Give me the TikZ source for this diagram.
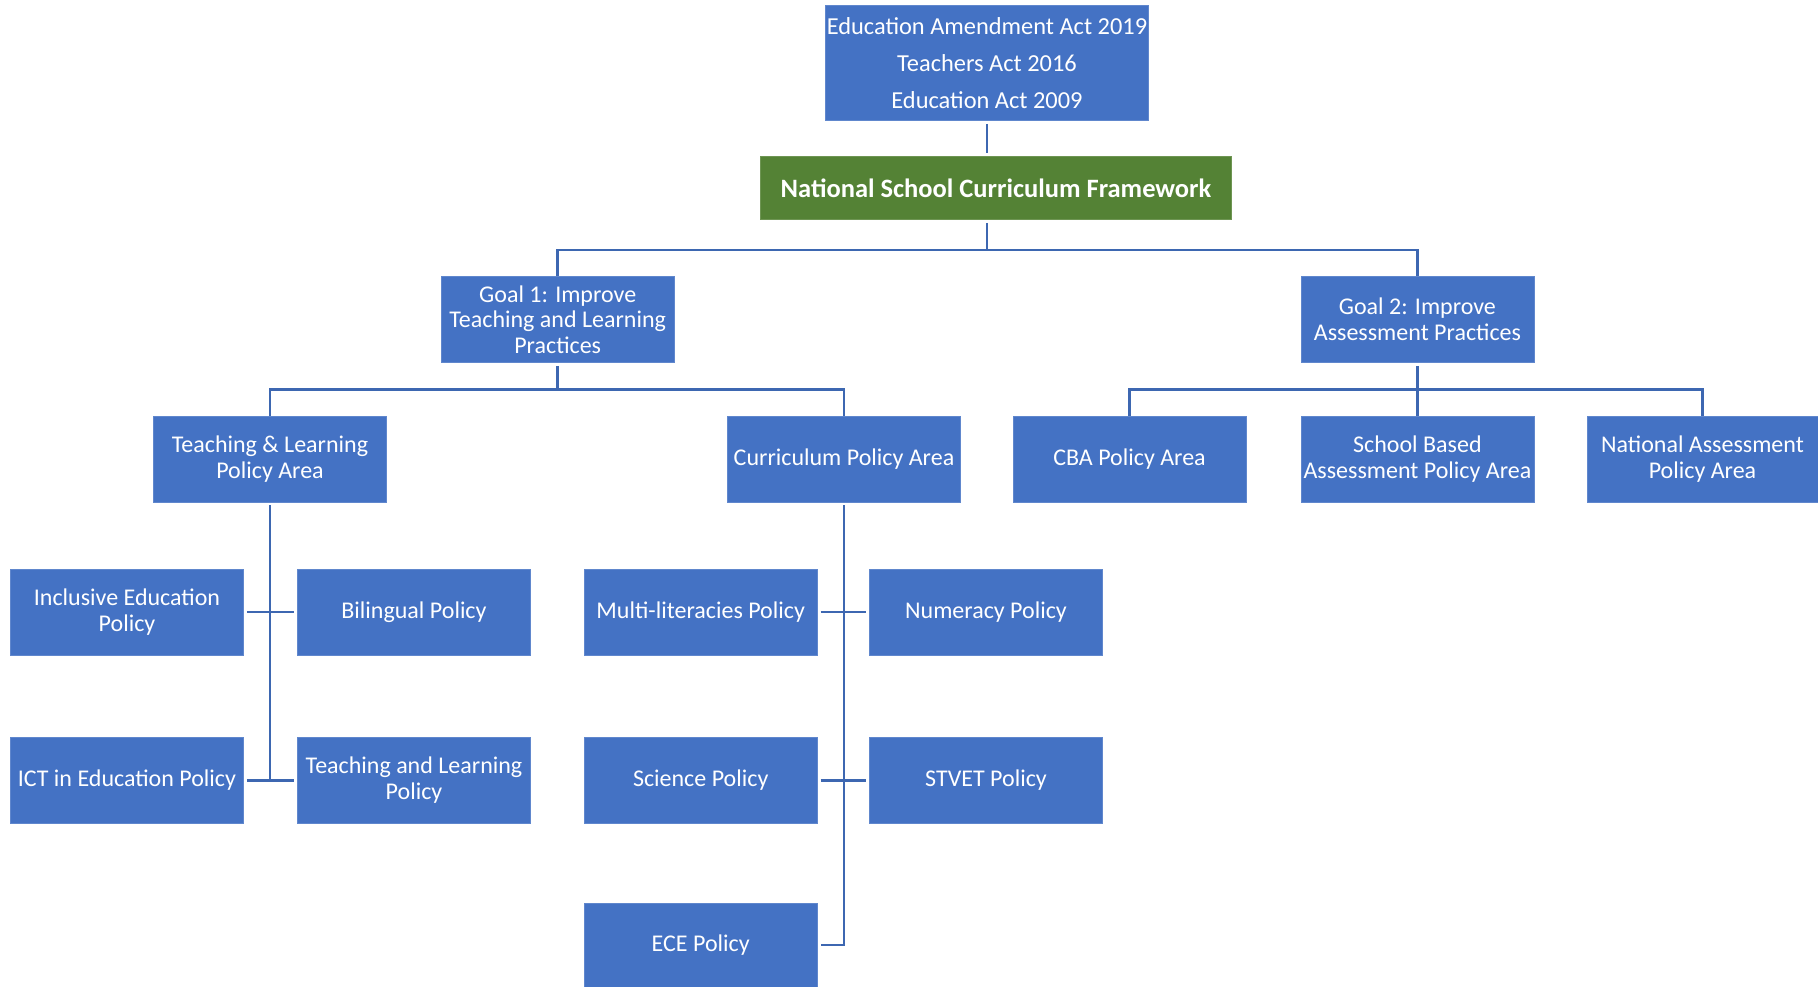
\documentclass[tikz,border=0pt]{standalone}
\usepackage{fontspec}
\setmainfont{Carlito}
\usepackage{tikz}
\usetikzlibrary{positioning}
\definecolor{boxblue}{HTML}{4472C4}
\definecolor{boxgreen}{HTML}{548235}
\definecolor{linkblue}{HTML}{3D67B1}

\begin{document}
\begin{tikzpicture}[x=1pt,y=-1pt,
    policybox/.style={fill=boxblue, draw=boxblue!85!white, line width=0.8pt, text=white,
        minimum width=233pt, minimum height=86pt, align=center, inner sep=1pt,
        font=\fontsize{24}{25.5}\selectfont},
    link/.style={draw=linkblue, line width=2.6pt},
    stub/.style={link, shorten <=3pt, shorten >=3pt}]
    \useasboundingbox (0,0) rectangle (1818,987);
    % Acts and Framework
    \node[policybox, minimum width=321pt, minimum height=115pt,
        font=\fontsize{24.4}{37}\selectfont] (acts) at (987,63)
        {Education Amendment Act 2019\\Teachers Act 2016\\Education Act 2009};
    \node[policybox, fill=boxgreen, draw=boxgreen!85!white, minimum width=471pt,
        minimum height=63pt, font=\fontsize{26.5}{30}\bfseries] (ncf) at (996,188)
        {National School Curriculum Framework};
    % Goals
    \node[policybox] (goalA) at (557.7,319.5) {Goal 1: Improve\\Teaching and Learning\\Practices};
    \node[policybox] (goalB) at (1417.4,319.5) {Goal 2: Improve\\Assessment Practices};
    % Policy Areas
    \node[policybox] (tlarea) at (270,459) {Teaching \& Learning\\Policy Area};
    \node[policybox] (curarea) at (844,459) {Curriculum Policy Area};
    \node[policybox] (cbaarea) at (1129.5,459) {CBA Policy Area};
    \node[policybox] (sbaarea) at (1417.4,459) {School Based\\Assessment Policy Area};
    \node[policybox, minimum width=231pt] (naarea) at (1702.5,459) {National Assessment\\Policy Area};
    % Policies under Teaching & Learning
    \node[policybox] (incl) at (127,612) {Inclusive Education\\Policy};
    \node[policybox] (biling) at (414,612) {Bilingual Policy};
    \node[policybox] (ict) at (127,780.3) {ICT in Education Policy};
    \node[policybox] (tlpol) at (414,780.3) {Teaching and Learning\\Policy};
    % Policies under Curriculum
    \node[policybox] (multi) at (700.7,612) {Multi-literacies Policy};
    \node[policybox] (numer) at (986,612) {Numeracy Policy};
    \node[policybox] (sci) at (700.7,780.3) {Science Policy};
    \node[policybox] (stvet) at (986,780.3) {STVET Policy};
    \node[policybox, minimum height=84pt] (ece) at (700.7,945) {ECE Policy};
    %
    % Bus points
    \coordinate (busA) at (987,250);
    \coordinate (busB) at (557.7,389.6);
    \coordinate (busC) at (1417.4,389.6);
    % Links from the top
    \draw[stub] (acts.south) -- (acts.south |- ncf.north);
    \draw[link, shorten <=3pt] (acts.south |- ncf.south) -- (busA);
    \draw[link] (goalA.north) |- (busA) -| (goalB.north);
    % Links below the goals
    \draw[link, shorten <=3pt] (goalA.south) -- (busB);
    \draw[link] (tlarea.north) |- (busB) -| (curarea.north);
    \draw[link, shorten <=3pt] (goalB.south) -- (sbaarea.north);
    \draw[link] (cbaarea.north) |- (busC) -| (naarea.north);
    % Spines to the policies
    \draw[link, shorten <=3pt] (tlarea.south) -- (tlarea.south |- ict.east);
    \draw[stub] (incl.east) -- (biling.west);
    \draw[stub] (ict.east) -- (tlpol.west);
    \draw[link, shorten <=3pt, shorten >=3pt] (curarea.south) |- (ece.east);
    \draw[stub] (multi.east) -- (numer.west);
    \draw[stub] (sci.east) -- (stvet.west);
\end{tikzpicture}
\end{document}
